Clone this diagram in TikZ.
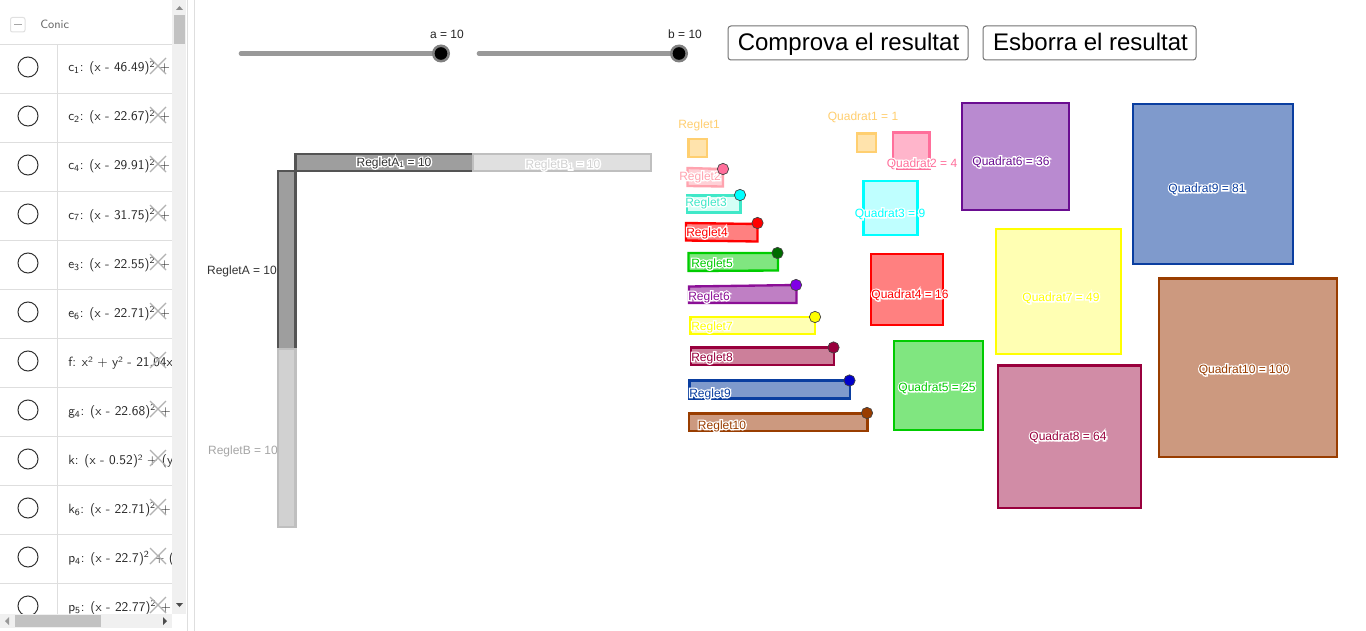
\documentclass[tikz,border=0pt]{standalone}
\usepackage{fontspec}
\setmainfont{Liberation Sans}
\definecolor{cOr}{HTML}{FFCF70}\definecolor{cOrF}{HTML}{FFE3AC}
\definecolor{cPk}{HTML}{FFA3AF}\definecolor{cPkF}{HTML}{FFD1D7}
\definecolor{cPq}{HTML}{FF6F9B}\definecolor{cPqF}{HTML}{FFB5CB}
\definecolor{cTq}{HTML}{40E8C8}\definecolor{cTqF}{HTML}{D5FFF6}
\definecolor{cCy}{HTML}{00FFFF}\definecolor{cCyF}{HTML}{BFFFFF}
\definecolor{cRd}{HTML}{FF0000}\definecolor{cRdF}{HTML}{FF8080}
\definecolor{cGn}{HTML}{00CC00}\definecolor{cGnF}{HTML}{80E680}
\definecolor{cPu}{HTML}{8B0F96}\definecolor{cPuF}{HTML}{BF7FC4}
\definecolor{cPv}{HTML}{6A0D91}\definecolor{cPvF}{HTML}{B98AD0}
\definecolor{cYe}{HTML}{FFFF00}\definecolor{cYeF}{HTML}{FFFFB3}
\definecolor{cMr}{HTML}{99003D}\definecolor{cMrF}{HTML}{CC7F9A}\definecolor{cMqF}{HTML}{D18CA6}
\definecolor{cBl}{HTML}{0A3EA0}\definecolor{cBlF}{HTML}{7F9ACC}
\definecolor{cBr}{HTML}{993D00}\definecolor{cBrF}{HTML}{CC997F}
\newcommand{\halotext}[1]{\leavevmode\rlap{\color{white}\special{pdf:code 2 Tr 2 w}#1\special{pdf:code 0 Tr}}#1}
\newcommand{\sub}[1]{\textsubscript{#1}}
\tikzset{
  x=0.75pt,y=-0.75pt,
  lab/.style={inner sep=0pt,yshift=-0.75pt,font=\fontsize{9}{10}\selectfont},
  btn/.style={draw=black!55,rounded corners=2.2pt,fill=white,line width=0.75pt},
  btntext/.style={inner sep=0pt,anchor=base,font=\fontsize{18}{20}\selectfont,text=black},
  shp/.style={line width=1.75pt,line join=miter},
  dotp/.style={circle,draw=black!75,line width=0.5pt,minimum size=8.5pt,inner sep=0pt},
  rowtext/.style={anchor=base west,inner sep=0pt,font=\sffamily\fontsize{10}{12}\selectfont,text=black!85},
  sep/.style={draw=black!13,line width=0.75pt},
  vis/.style={circle,draw=black!80,line width=0.75pt,minimum size=15pt,inner sep=0pt},
  crossx/.style={draw=black!30,line width=1pt},
  sliderline/.style={draw=black!40,line width=3.5pt,line cap=round},
}
\begin{document}
\begin{tikzpicture}
\useasboundingbox (0,0) rectangle (1366,631);
\fill[white] (0,0) rectangle (1366,631);
% --- sidebar ---
\begin{scope}
\clip (0,0) rectangle (172,614);
\draw[sep] (57,44.5) -- (57,631);
\foreach \yy in {44.5,93.5,142.5,191.5,240.5,289.5,338.5,387.5,436.5,485.5,534.5,583.5}
  \draw[sep] (0,\yy) -- (172,\yy);
\foreach \yy/\nm in {67/v1,116/v2,165/v3,214/v4,263/v5,312/v6,361/v7,410/v8,459/v9,508/v10,557/v11,606/v12}
  \node[vis] (\nm) at (28,\yy) {};
\node[rowtext] (r1) at (68,72) {c\sub{1}: (x - 46.49)\textsuperscript{2} +};
\node[rowtext] (r2) at (68,121) {c\sub{2}: (x - 22.67)\textsuperscript{2} +};
\node[rowtext] (r3) at (68,170) {c\sub{4}: (x - 29.91)\textsuperscript{2} +};
\node[rowtext] (r4) at (68,219) {c\sub{7}: (x - 31.75)\textsuperscript{2} +};
\node[rowtext] (r5) at (68,268) {e\sub{3}: (x - 22.55)\textsuperscript{2} +};
\node[rowtext] (r6) at (68,317) {e\sub{6}: (x - 22.71)\textsuperscript{2} +};
\node[rowtext] (r7) at (68,366) {f: x² + y² - 21.04x};
\node[rowtext] (r8) at (68,415) {g\sub{4}: (x - 22.68)\textsuperscript{2} +};
\node[rowtext] (r9) at (68,464) {k: (x - 0.52)² + (y};
\node[rowtext] (r10) at (68,513) {k\sub{6}: (x - 22.71)\textsuperscript{2} +};
\node[rowtext] (r11) at (68,562) {p\sub{4}: (x - 22.7)\textsuperscript{2} + (};
\node[rowtext] (r12) at (68,611) {p\sub{5}: (x - 22.77)\textsuperscript{2} +};
\foreach \yy in {66,115,164,213,262,311,360,409,458,507,556,605}{
  \draw[crossx] (150,\yy-8) -- (166,\yy+8);
  \draw[crossx] (150,\yy+8) -- (166,\yy-8);
}
\end{scope}
\node[anchor=west,inner sep=0pt,font=\sffamily\fontsize{9}{10}\selectfont,text=black!60] (conic) at (40,24) {Conic};
\draw[draw=black!12,rounded corners=1.5pt,line width=0.75pt] (10.5,17.5) rectangle (25,32);
\draw[draw=black!35,line width=1pt] (14,24.5) -- (21.5,24.5);
% scrollbars
\fill[black!6] (172,0) rectangle (186,614);
\fill[black!24] (174,15) rectangle (185,44);
\fill[black!45] (179.5,6) -- (176,10) -- (183,10) -- cycle;
\fill[black!70] (176,603) -- (183,603) -- (179.5,607) -- cycle;
\fill[black!6] (0,614) rectangle (172,628);
\fill[black!24] (15,615) rectangle (101,627);
\fill[black!40] (9,617) -- (9,625) -- (5,621) -- cycle;
\fill[black!70] (163,617) -- (163,625) -- (167,621) -- cycle;
\draw[sep] (187.5,0) -- (187.5,631);
\draw[sep] (194.5,0) -- (194.5,631);
% --- sliders ---
\draw[sliderline] (241,53.5) -- (441,53.5);
\draw[sliderline] (479,53.5) -- (679,53.5);
\node[circle,fill=black!50,minimum size=13.5pt,inner sep=0pt] (ka) at (441,53.5) {};
\node[circle,fill=black,minimum size=9.5pt,inner sep=0pt] (kai) at (441,53.5) {};
\node[circle,fill=black!50,minimum size=13.5pt,inner sep=0pt] (kb) at (679,53.5) {};
\node[circle,fill=black,minimum size=9.5pt,inner sep=0pt] (kbi) at (679,53.5) {};
\node[lab,text=black!85] (la) at (447,33.5) {a = 10};
\node[lab,text=black!85] (lb) at (685,33.5) {b = 10};
% --- buttons ---
\draw[btn] (728,26) rectangle (968,60);
\draw[btn] (983,26) rectangle (1196,60);
\node[btntext] (b1) at (848.5,51) {Comprova el resultat};
\node[btntext] (b2) at (1090.5,51) {Esborra el resultat};
% --- big reglets ---
\draw[shp,draw=black!67,fill=black!38] (295.5,154) rectangle (473,171);
\draw[shp,draw=black!25,fill=black!12] (473,154) rectangle (651,171);
\draw[shp,draw=black!67,fill=black!38] (278,171) rectangle (295.5,349);
\draw[shp,draw=black!25,fill=black!18] (278,349) rectangle (295.5,527);
\node[lab,text=black!80] (rah) at (394,162) {\halotext{RegletA\sub{1} = 10}};
\node[lab,text=black!18] (rbh) at (563,164) {\halotext{RegletB\sub{1} = 10}};
\node[lab,text=black!80] (rav) at (242,270) {RegletA = 10};
\node[lab,text=black!35] (rbv) at (243,450) {RegletB = 10};
% --- reglets ---
\draw[shp,draw=cOr,fill=cOrF] (688.5,139) rectangle (707,157);
\node[lab,text=cOr] (t1) at (699,124) {Reglet1};
\draw[shp,draw=cPk,fill=cPkF] (687.5,168) -- (723,169) -- (723,186.5) -- (687.5,186) -- cycle;
\node[lab,text=cPk] (t2) at (700,176) {\halotext{Reglet2}};
\node[dotp,fill=cPq] (d2) at (723,169) {};
\draw[shp,draw=cTq,fill=cTqF] (687,195.5) rectangle (740.5,212.5);
\node[lab,text=cTq] (t3) at (706,202) {\halotext{Reglet3}};
\node[dotp,fill=cCy] (d3) at (740,195) {};
\draw[shp,draw=cRd,fill=cRdF] (686,223) -- (757.5,224) -- (757.5,241.5) -- (686,240.5) -- cycle;
\node[lab,text=cRd] (t4) at (707,232) {\halotext{Reglet4}};
\node[dotp,fill=cRd] (d4) at (757.5,223) {};
\draw[shp,draw=cGn,fill=cGnF] (688.5,253) -- (778,253) -- (778,270.5) -- (688.5,271) -- cycle;
\node[lab,text=cGn] (t5) at (712,263) {\halotext{Reglet5}};
\node[dotp,fill=black!30!green!60!black] (d5) at (777.5,253) {};
\draw[shp,draw=cPu,fill=cPuF] (689,286.5) -- (796.5,285) -- (796.5,303) -- (689,303) -- cycle;
\node[lab,text=cPu] (t6) at (709,296) {\halotext{Reglet6}};
\node[dotp,fill={rgb,255:red,128;green,0;blue,230}] (d6) at (796,285) {};
\draw[shp,draw=cYe,fill=cYeF] (690.5,317) rectangle (815,334);
\node[lab,text=cYe] (t7) at (712,326) {\halotext{Reglet7}};
\node[dotp,fill=cYe] (d7) at (815,317) {};
\draw[shp,draw=cMr,fill=cMrF] (691,347.5) rectangle (834,365);
\node[lab,text=cMr] (t8) at (712,357) {\halotext{Reglet8}};
\node[dotp,fill=cMr] (d8) at (833.5,347.5) {};
\draw[shp,draw=cBl,fill=cBlF] (689.5,380.5) rectangle (850,398.5);
\node[lab,text=cBl] (t9) at (710,393) {\halotext{Reglet9}};
\node[dotp,fill=blue!80!black] (d9) at (849.5,380.5) {};
\draw[shp,draw=cBr,fill=cBrF] (689,413.5) rectangle (867.5,431);
\node[lab,text=cBr] (t10) at (722,425) {\halotext{Reglet10}};
\node[dotp,fill=cBr] (d10) at (867,413) {};
% --- quadrats ---
\draw[shp,draw=cOr,fill=cOrF] (857,133.5) rectangle (876,152);
\node[lab,text=cOr] (q1) at (863,116) {Quadrat1 = 1};
\draw[shp,draw=cPq,fill=cPqF] (893,132.5) rectangle (929.5,169);
\node[lab,text=cPq] (q2) at (922,163) {\halotext{Quadrat2 = 4}};
\draw[shp,draw=cCy,fill=cCyF] (863.5,181) rectangle (917.5,235);
\node[lab,text=cCy] (q3) at (890,213) {\halotext{Quadrat3 = 9}};
\draw[shp,draw=cRd,fill=cRdF] (871,254) rectangle (943,325);
\node[lab,text=cRd] (q4) at (910,294) {\halotext{Quadrat4 = 16}};
\draw[shp,draw=cGn,fill=cGnF] (894,341) rectangle (983,430);
\node[lab,text=cGn] (q5) at (937,387) {\halotext{Quadrat5 = 25}};
\draw[shp,draw=cPv,fill=cPvF] (962,103) rectangle (1069,210);
\node[lab,text=cPv] (q6) at (1011,161) {\halotext{Quadrat6 = 36}};
\draw[shp,draw=cYe,fill=cYeF] (996,229) rectangle (1121,354);
\node[lab,text=cYe] (q7) at (1061,297) {\halotext{Quadrat7 = 49}};
\draw[shp,draw=cMr,fill=cMqF] (998,365.5) rectangle (1141,508);
\node[lab,text=cMr] (q8) at (1068,436) {\halotext{Quadrat8 = 64}};
\draw[shp,draw=cBl,fill=cBlF] (1133,104) rectangle (1293,264);
\node[lab,text=cBl] (q9) at (1207,188) {\halotext{Quadrat9 = 81}};
\draw[shp,draw=cBr,fill=cBrF] (1159,278.5) rectangle (1337,457);
\node[lab,text=cBr] (q10) at (1244,369) {\halotext{Quadrat10 = 100}};
\end{tikzpicture}
\end{document}
